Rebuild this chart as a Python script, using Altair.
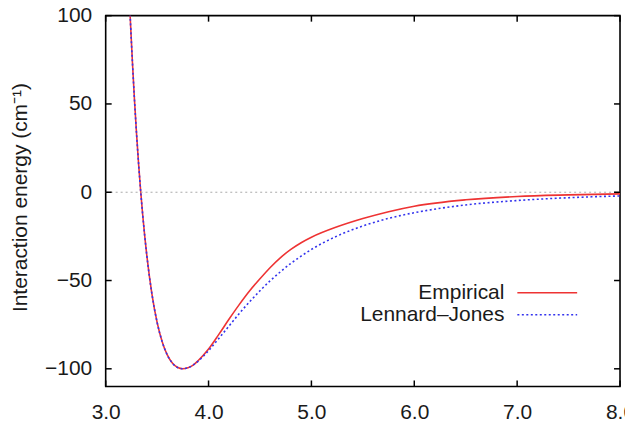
import altair as alt
import pandas as pd

r_vals = [3.22, 3.24, 3.26, 3.28, 3.30, 3.32, 3.34, 3.36, 3.40, 3.45, 3.50, 3.55,
          3.60, 3.65, 3.70, 3.75, 3.80, 3.85, 3.90, 4.0, 4.1, 4.2, 4.3, 4.4, 4.5, 4.6,
          4.7, 4.8, 4.9, 5.0, 5.25, 5.5, 5.75, 6.0, 6.5, 7.0, 7.5, 8.0]
empirical = [123.6, 97.2, 73.6, 52.2, 33.1, 16.0, 0.7, -12.9, -35.9, -57.8, -73.7, -84.8,
             -92.3, -96.9, -99.3, -100.0, -99.4, -97.9, -95.3, -88.8, -80.5, -71.8, -63.5,
             -55.8, -49.0, -42.6, -37.0, -32.4, -28.6, -25.5, -19.6, -14.9, -11.0, -7.9,
             -4.3, -2.4, -1.5, -0.9]
lennard_jones = [123.6, 97.2, 73.6, 52.2, 33.1, 16.0, 0.7, -12.9, -35.9, -57.8, -73.7, -84.8,
                 -92.3, -96.9, -99.3, -100.0, -99.4, -97.9, -95.6, -89.7, -82.8, -75.7, -68.6,
                 -62.0, -55.8, -50.1, -45.0, -40.3, -36.2, -32.4, -24.8, -19.1, -14.8, -11.6,
                 -7.2, -4.7, -3.1, -2.1]

x_ticks = [3.0, 4.0, 5.0, 6.0, 7.0, 8.0]
y_ticks = [-100, -50, 0, 50, 100]
legend_labels = ["Empirical", "Lennard–Jones"]

W, H = 516, 372
FONT = "Liberation Sans"
TXT = "#1a1a1a"

xs = alt.Scale(domain=[3.0, 8.0], nice=False, zero=False)
ys = alt.Scale(domain=[-110, 100], nice=False, zero=False)

emp_df = pd.DataFrame({"r": r_vals, "E": empirical})
lj_df = pd.DataFrame({"r": r_vals, "E": lennard_jones})
xt_df = pd.DataFrame({"v": x_ticks})
yt_df = pd.DataFrame({"v": y_ticks})
zero_df = pd.DataFrame({"E": [0]})

x_enc = alt.X("r:Q", scale=xs, axis=alt.Axis(values=x_ticks, format=".1f", title="R (Å)",
                                               labelPadding=15, titlePadding=12,
                                               labelFlush=False))
y_enc = alt.Y("E:Q", scale=ys, axis=alt.Axis(values=y_ticks, title="Interaction energy (cm⁻¹)",
                                               labelPadding=14, titleX=-85, titleY=H / 2 - 4,
                                               titleAngle=-90, titleAlign="center",
                                               titleBaseline="middle", labelFlush=False))

zero_line = alt.Chart(zero_df).mark_rule(color="#aaaaaa", strokeWidth=1, strokeDash=[2, 3]).encode(
    y=alt.Y("E:Q", scale=ys), x=alt.value(0), x2=alt.value(W))

emp_line = alt.Chart(emp_df).mark_line(color="#ee3333", strokeWidth=1.6, interpolate="monotone",
                                       clip=True).encode(x=x_enc, y=y_enc)
lj_line = alt.Chart(lj_df).mark_line(color="#3333ee", strokeWidth=1.6, strokeDash=[2, 2.5],
                                     interpolate="monotone", clip=True).encode(
    x=alt.X("r:Q", scale=xs), y=alt.Y("E:Q", scale=ys))

tk = dict(color="black", strokeWidth=1.5)
tick_b = alt.Chart(xt_df).mark_rule(**tk).encode(x=alt.X("v:Q", scale=xs), y=alt.value(H), y2=alt.value(H - 6))
tick_t = alt.Chart(xt_df).mark_rule(**tk).encode(x=alt.X("v:Q", scale=xs), y=alt.value(0), y2=alt.value(6))
tick_l = alt.Chart(yt_df).mark_rule(**tk).encode(y=alt.Y("v:Q", scale=ys), x=alt.value(0), x2=alt.value(6))
tick_r = alt.Chart(yt_df).mark_rule(**tk).encode(y=alt.Y("v:Q", scale=ys), x=alt.value(W), x2=alt.value(W - 6))

leg_t1 = alt.Chart(pd.DataFrame({"t": [legend_labels[0]]})).mark_text(
    align="right", baseline="middle", font=FONT, fontSize=21, color=TXT).encode(
    text="t:N", x=alt.value(400), y=alt.value(278))
leg_t2 = alt.Chart(pd.DataFrame({"t": [legend_labels[1]]})).mark_text(
    align="right", baseline="middle", font=FONT, fontSize=21, color=TXT).encode(
    text="t:N", x=alt.value(400), y=alt.value(300))
leg_l1 = alt.Chart(pd.DataFrame({"t": [legend_labels[0]]})).mark_rule(color="#ee3333", strokeWidth=1.6).encode(
    x=alt.value(413), x2=alt.value(473), y=alt.value(278))
leg_l2 = alt.Chart(pd.DataFrame({"t": [legend_labels[1]]})).mark_rule(
    color="#3333ee", strokeWidth=1.6, strokeDash=[2, 2.5]).encode(
    x=alt.value(413), x2=alt.value(473), y=alt.value(300))

chart = alt.layer(
    emp_line, zero_line, lj_line, tick_b, tick_t, tick_l, tick_r,
    leg_t1, leg_t2, leg_l1, leg_l2
).properties(
    width=W, height=H,
    autosize=alt.AutoSizeParams(type="none"),
    padding={"left": 98, "top": 7, "right": 5, "bottom": 46},
).configure_view(
    stroke="black", strokeWidth=1.6
).configure_axis(
    domain=False, ticks=False, grid=False,
    labelFont=FONT, labelFontSize=21, labelColor=TXT,
    titleFont=FONT, titleFontSize=21, titleColor=TXT, titleFontWeight="normal",
)

chart.save("out.html", embed_options={"renderer": "svg", "actions": False})
